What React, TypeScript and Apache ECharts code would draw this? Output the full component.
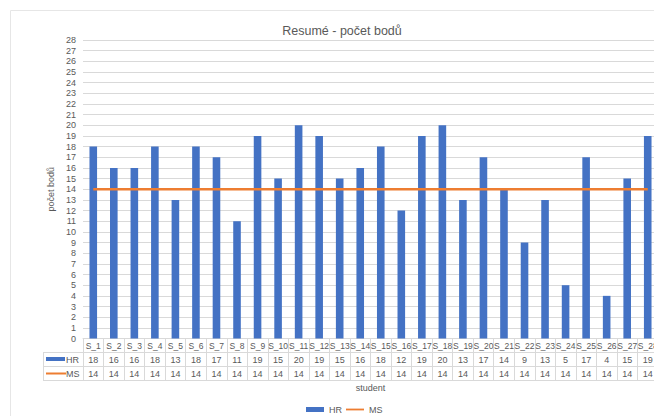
import React, { useEffect, useRef } from "react";
import * as echarts from "echarts";

const students = ["S_1","S_2","S_3","S_4","S_5","S_6","S_7","S_8","S_9","S_10","S_11","S_12","S_13","S_14","S_15","S_16","S_17","S_18","S_19","S_20","S_21","S_22","S_23","S_24","S_25","S_26","S_27","S_28"];
const hr = [18,16,16,18,13,18,17,11,19,15,20,19,15,16,18,12,19,20,13,17,14,9,13,5,17,4,15,19];
const ms = [14,14,14,14,14,14,14,14,14,14,14,14,14,14,14,14,14,14,14,14,14,14,14,14,14,14,14,14];

const GRAY = "#d9d9d9";
const TXT = "#595959";
const FONT = "Liberation Sans";

export default function App() {
  const ref = useRef<HTMLDivElement>(null);
  useEffect(() => {
    if (!ref.current) return;
    const chart = echarts.init(ref.current, null, { renderer: "svg" });
    const gridTop = 40;
    const gridLeft = 83;
    const gridWidth = 575;
    const gridBottomY = 338.5;
    const row = 14;
    const tableAxis = (vals: (string | number)[], off: number, extra: any = {}) => ({
      type: "category",
      position: "bottom",
      offset: off,
      data: vals.map(String),
      axisLine: { show: true, lineStyle: { color: GRAY, width: 1 } },
      axisTick: { show: false },
      axisLabel: { interval: 0, fontSize: 9, color: TXT, fontFamily: FONT, margin: 3 },
      splitLine: { show: false },
      ...extra,
    });
    chart.setOption({
      animation: false,
      backgroundColor: "#fff",
      title: {
        text: "Resumé - počet bodů",
        left: 337,
        top: 19,
        textAlign: "center",
        textStyle: { fontSize: 12.5, fontWeight: "normal", color: TXT, fontFamily: FONT },
      },
      legend: {
        top: 400,
        left: 301,
        itemGap: 4,
        itemWidth: 18,
        itemHeight: 5,
        textStyle: { fontSize: 9, color: TXT, fontFamily: FONT },
        data: [
          { name: "HR", icon: "rect" },
          { name: "MS", icon: "path://M0,0 L20,0 L20,2 L0,2 Z" },
        ],
      },
      grid: { left: gridLeft, top: gridTop, width: gridWidth, height: gridBottomY - gridTop, containLabel: false },
      xAxis: [
        {
          type: "category",
          data: students,
          position: "bottom",
          axisLine: { show: true, lineStyle: { color: GRAY, width: 1 } },
          axisTick: { show: true, interval: 0, length: row * 3, lineStyle: { color: GRAY } },
          axisLabel: { interval: 0, fontSize: 8.5, color: TXT, fontFamily: FONT, margin: 3 },
          splitLine: { show: false },
        },
        tableAxis(hr, row),
        tableAxis(ms, row * 2),
        tableAxis(students.map(() => ""), row * 3, {
          axisLabel: { show: false },
          name: "student",
          nameLocation: "middle",
          nameGap: 3,
          nameTextStyle: { fontSize: 9, color: TXT, fontFamily: FONT },
        }),
      ],
      yAxis: {
        type: "value",
        min: 0,
        max: 28,
        interval: 1,
        name: "počet bodů",
        nameLocation: "middle",
        nameGap: 22,
        nameTextStyle: { fontSize: 9, color: TXT, fontFamily: FONT },
        axisLine: { show: false },
        axisTick: { show: false },
        axisLabel: { fontSize: 9, color: TXT, fontFamily: FONT, margin: 7 },
        splitLine: { lineStyle: { color: GRAY, width: 1 } },
      },
      series: [
        {
          name: "HR",
          type: "bar",
          data: hr,
          barWidth: "37%",
          itemStyle: { color: "#4472C4" },
        },
        {
          name: "MS",
          type: "line",
          data: ms,
          symbol: "none",
          lineStyle: { color: "#ED7D31", width: 2.5 },
          itemStyle: { color: "#ED7D31" },
        },
      ],
      graphic: [
        { type: "rect", shape: { x: 10.5, y: 10.5, width: 700, height: 500 }, style: { fill: "none", stroke: "#e6e6e6", lineWidth: 1 }, silent: true },
        { type: "line", shape: { x1: 43, y1: gridBottomY + row, x2: gridLeft, y2: gridBottomY + row }, style: { stroke: GRAY, lineWidth: 1 } },
        { type: "line", shape: { x1: 43, y1: gridBottomY + row * 2, x2: gridLeft, y2: gridBottomY + row * 2 }, style: { stroke: GRAY, lineWidth: 1 } },
        { type: "line", shape: { x1: 43, y1: gridBottomY + row * 3, x2: gridLeft, y2: gridBottomY + row * 3 }, style: { stroke: GRAY, lineWidth: 1 } },
        { type: "line", shape: { x1: 43.5, y1: gridBottomY + row, x2: 43.5, y2: gridBottomY + row * 3 }, style: { stroke: GRAY, lineWidth: 1 } },
        { type: "rect", shape: { x: 46, y: gridBottomY + row + 4.5, width: 19, height: 4 }, style: { fill: "#4472C4" } },
        { type: "text", x: 66, y: gridBottomY + row + 7, style: { text: "HR", fontSize: 9, fill: TXT, fontFamily: FONT, verticalAlign: "middle" } },
        { type: "line", shape: { x1: 46, y1: gridBottomY + row * 2 + 7, x2: 66, y2: gridBottomY + row * 2 + 7 }, style: { stroke: "#ED7D31", lineWidth: 2 } },
        { type: "text", x: 66, y: gridBottomY + row * 2 + 7, style: { text: "MS", fontSize: 9, fill: TXT, fontFamily: FONT, verticalAlign: "middle" } },
      ],
    });
    return () => chart.dispose();
  }, []);
  return (
    <div style={{ position: "fixed", left: 0, top: 0, width: 654, height: 416, overflow: "hidden", background: "#fff" }}>
      <div ref={ref} style={{ width: 680, height: 416 }} />
    </div>
  );
}
